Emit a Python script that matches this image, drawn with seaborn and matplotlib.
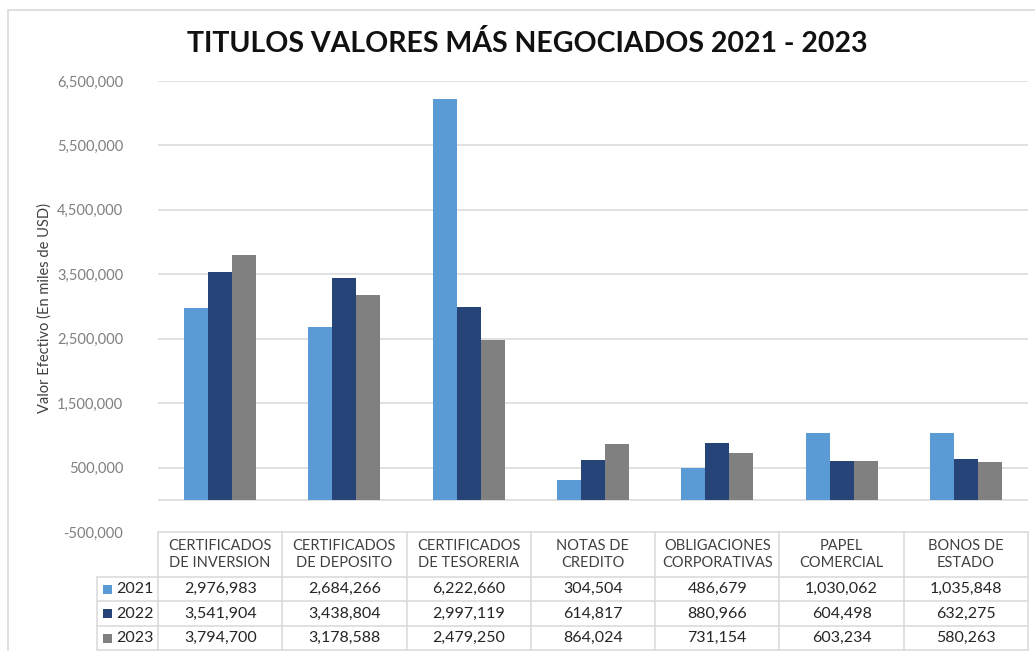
import matplotlib
matplotlib.use("Agg")
import matplotlib.pyplot as plt
from matplotlib.lines import Line2D
from matplotlib.patches import Rectangle
import numpy as np
import pandas as pd
import seaborn as sns

# ---- data (miles de USD) ----
categorias = [
    "CERTIFICADOS\nDE INVERSION",
    "CERTIFICADOS\nDE DEPOSITO",
    "CERTIFICADOS\nDE TESORERIA",
    "NOTAS DE\nCREDITO",
    "OBLIGACIONES\nCORPORATIVAS",
    "PAPEL\nCOMERCIAL",
    "BONOS DE\nESTADO",
]
anios = ["2021", "2022", "2023"]
valores_2021 = [2976983, 2684266, 6222660, 304504, 486679, 1030062, 1035848]
valores_2022 = [3541904, 3438804, 2997119, 614817, 880966, 604498, 632275]
valores_2023 = [3794700, 3178588, 2479250, 864024, 731154, 603234, 580263]
colores = ["#5B9BD5", "#264478", "#808080"]
yticks = [-500000, 500000, 1500000, 2500000, 3500000, 4500000, 5500000, 6500000]

series = [valores_2021, valores_2022, valores_2023]
df = pd.DataFrame({
    "categoria": np.tile(categorias, len(anios)),
    "anio": np.repeat(anios, len(categorias)),
    "valor": np.concatenate(series),
})

sns.set_theme(style="white")
plt.rcParams["font.family"] = ["Lato", "DejaVu Sans"]

W, H = 1035, 651
fig = plt.figure(figsize=(W / 100, H / 100), dpi=100)
fig.patch.set_facecolor("white")

def fx(px):
    return px / W

def fy(py):
    return 1 - py / H

# plot area in pixels
ax_l, ax_r, ax_t, ax_b = 158, 1028, 81, 532
ax = fig.add_axes([fx(ax_l), fy(ax_b), fx(ax_r - ax_l), (ax_b - ax_t) / H])

sns.barplot(data=df, x="categoria", y="valor", hue="anio", palette=colores,
            width=0.58, gap=0, saturation=1, linewidth=0, ax=ax, legend=False,
            zorder=3)

ax.set_xlim(-0.5, len(categorias) - 0.5)
ax.set_ylim(yticks[0], yticks[-1])
ax.set_yticks(yticks)
ax.set_yticklabels([f"{v:,.0f}" for v in yticks], color="#7F7F7F", fontsize=10.5)
ax.tick_params(axis="y", length=0, pad=25)
ax.set_xticks([])
ax.set_xlabel("")
ax.set_ylabel("")
for s in ax.spines.values():
    s.set_visible(False)
for v in yticks[1:]:
    ax.axhline(v, color="#D9D9D9", lw=1.1, zorder=1)
ax.axhline(0, color="#D9D9D9", lw=1.1, zorder=1)

fig.text(fx(45), fy(308), "Valor Efectivo (En miles de USD)", rotation=90,
         ha="center", va="center", fontsize=10.5, color="#404040")

fig.text(fx(527), fy(44), "TITULOS VALORES MÁS NEGOCIADOS 2021 - 2023",
         ha="center", va="center", fontsize=20.5, fontweight="bold", color="#111111")

# chart frame
fig.add_artist(Rectangle((fx(8), fy(700)), fx(1100), (700 - 10) / H,
                         transform=fig.transFigure, fill=False,
                         edgecolor="#D9D9D9", lw=1.2))

# ---- data table under the axis ----
grid_c = "#D9D9D9"
row_y = [532, 577, 601, 626, 650]
key_l = 97
xt = ax.get_xaxis_transform()

def ay(py):
    return (ax_b - py) / (ax_b - ax_t)

def hline(py, x0, x1):
    fig.add_artist(Line2D([fx(x0), fx(x1)], [fy(py), fy(py)],
                          transform=fig.transFigure, color=grid_c, lw=1.1))

def vline(px, y0, y1):
    fig.add_artist(Line2D([fx(px), fx(px)], [fy(y0), fy(y1)],
                          transform=fig.transFigure, color=grid_c, lw=1.1))

col_edges = [ax.transData.transform((k - 0.5, 0))[0] for k in range(len(categorias) + 1)]
hline(row_y[0], col_edges[0], col_edges[-1])
for py in row_y[1:]:
    hline(py, key_l, col_edges[-1])
for px in col_edges:
    vline(px, row_y[0], row_y[-1])
vline(key_l, row_y[1], row_y[-1])

for i, cat in enumerate(categorias):
    ax.text(i, ay((row_y[0] + row_y[1]) / 2), cat, transform=xt, ha="center",
            va="center", fontsize=10.5, color="#404040", linespacing=1.3,
            clip_on=False)
    for r, vals in enumerate(series):
        ax.text(i, ay((row_y[r + 1] + row_y[r + 2]) / 2), f"{vals[i]:,.0f}",
                transform=xt, ha="center", va="center", fontsize=11.5,
                color="#262626", clip_on=False)

for r, (anio, c) in enumerate(zip(anios, colores)):
    yc = (row_y[r + 1] + row_y[r + 2]) / 2
    fig.add_artist(Rectangle((fx(103), fy(yc + 4.5)), fx(9), 9 / H,
                             transform=fig.transFigure, facecolor=c,
                             edgecolor="none"))
    fig.text(fx(116), fy(yc), anio, ha="left", va="center", fontsize=11.5,
             color="#262626")

fig.savefig("out.png", dpi=100)
